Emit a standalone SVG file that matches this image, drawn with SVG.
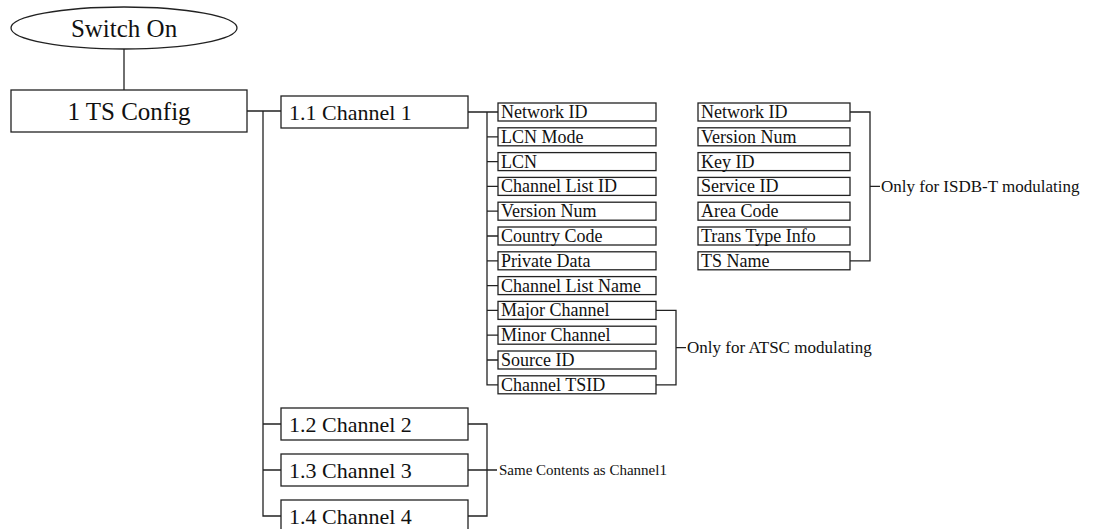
<svg xmlns="http://www.w3.org/2000/svg" width="1108" height="529" viewBox="0 0 1108 529">
<style>
.b{fill:#fff;stroke:#222;stroke-width:1.3}
.c{fill:none;stroke:#222;stroke-width:1.3}
.big,.ch,.it,.note,.sm{font-family:"Liberation Serif","Times New Roman",serif;fill:#111}
.big{font-size:25px;text-anchor:middle}
.ch{font-size:22px}
.it{font-size:18px}
.note{font-size:17px}
.sm{font-size:15px}
</style>
<rect width="1108" height="529" fill="#fff"/>
<g id="connectors" class="c">
<path d="M124 49V90"/>
<path d="M247 111H281M263 111V516H281M263 424H281M263 470H281"/>
<path d="M468 112H498M487 112V384.8H498M487 136.8H498M487 161.6H498M487 186.4H498M487 211.2H498M487 236H498M487 260.8H498M487 285.6H498M487 310.4H498M487 335.2H498M487 360H498"/>
<path d="M656 310.4H676V384.8H656M676 347.6H686"/>
<path d="M850 112H870V260.8H850M870 186.4H880"/>
<path d="M468 424H487V516H468M468 470H497"/>
</g>
<g id="switch-on"><ellipse class="b" cx="124" cy="28" rx="113" ry="21"/><text class="big" x="124" y="37">Switch On</text></g>
<g id="ts-config"><rect class="b" x="11" y="90" width="236" height="42"/><text class="big" x="129" y="120">1 TS Config</text></g>
<g id="ch1"><rect class="b" x="281" y="96" width="187" height="32"/><text class="ch" x="289" y="120">1.1 Channel 1</text></g>
<g id="ch2"><rect class="b" x="281" y="408" width="187" height="32"/><text class="ch" x="289" y="432">1.2 Channel 2</text></g>
<g id="ch3"><rect class="b" x="281" y="454" width="187" height="32"/><text class="ch" x="289" y="478">1.3 Channel 3</text></g>
<g id="ch4"><rect class="b" x="281" y="500" width="187" height="34"/><text class="ch" x="289" y="524">1.4 Channel 4</text></g>
<g id="a1"><rect class="b" x="498" y="103" width="158" height="18"/><text class="it" x="501" y="118">Network ID</text></g>
<g id="a2"><rect class="b" x="498" y="127.8" width="158" height="18"/><text class="it" x="501" y="142.8">LCN Mode</text></g>
<g id="a3"><rect class="b" x="498" y="152.6" width="158" height="18"/><text class="it" x="501" y="167.6">LCN</text></g>
<g id="a4"><rect class="b" x="498" y="177.4" width="158" height="18"/><text class="it" x="501" y="192.4">Channel List ID</text></g>
<g id="a5"><rect class="b" x="498" y="202.2" width="158" height="18"/><text class="it" x="501" y="217.2">Version Num</text></g>
<g id="a6"><rect class="b" x="498" y="227" width="158" height="18"/><text class="it" x="501" y="242">Country Code</text></g>
<g id="a7"><rect class="b" x="498" y="251.8" width="158" height="18"/><text class="it" x="501" y="266.8">Private Data</text></g>
<g id="a8"><rect class="b" x="498" y="276.6" width="158" height="18"/><text class="it" x="501" y="291.6">Channel List Name</text></g>
<g id="a9"><rect class="b" x="498" y="301.4" width="158" height="18"/><text class="it" x="501" y="316.4">Major Channel</text></g>
<g id="a10"><rect class="b" x="498" y="326.2" width="158" height="18"/><text class="it" x="501" y="341.2">Minor Channel</text></g>
<g id="a11"><rect class="b" x="498" y="351" width="158" height="18"/><text class="it" x="501" y="366">Source ID</text></g>
<g id="a12"><rect class="b" x="498" y="375.8" width="158" height="18"/><text class="it" x="501" y="390.8">Channel TSID</text></g>
<g id="b1"><rect class="b" x="698" y="103" width="152" height="18"/><text class="it" x="701" y="118">Network ID</text></g>
<g id="b2"><rect class="b" x="698" y="127.8" width="152" height="18"/><text class="it" x="701" y="142.8">Version Num</text></g>
<g id="b3"><rect class="b" x="698" y="152.6" width="152" height="18"/><text class="it" x="701" y="167.6">Key ID</text></g>
<g id="b4"><rect class="b" x="698" y="177.4" width="152" height="18"/><text class="it" x="701" y="192.4">Service ID</text></g>
<g id="b5"><rect class="b" x="698" y="202.2" width="152" height="18"/><text class="it" x="701" y="217.2">Area Code</text></g>
<g id="b6"><rect class="b" x="698" y="227" width="152" height="18"/><text class="it" x="701" y="242">Trans Type Info</text></g>
<g id="b7"><rect class="b" x="698" y="251.8" width="152" height="18"/><text class="it" x="701" y="266.8">TS Name</text></g>
<g id="note-isdb"><text class="note" x="881" y="192">Only for ISDB-T modulating</text></g>
<g id="note-atsc"><text class="note" x="687" y="353">Only for ATSC modulating</text></g>
<g id="note-same"><text class="sm" x="499" y="475">Same Contents as Channel1</text></g>
</svg>
